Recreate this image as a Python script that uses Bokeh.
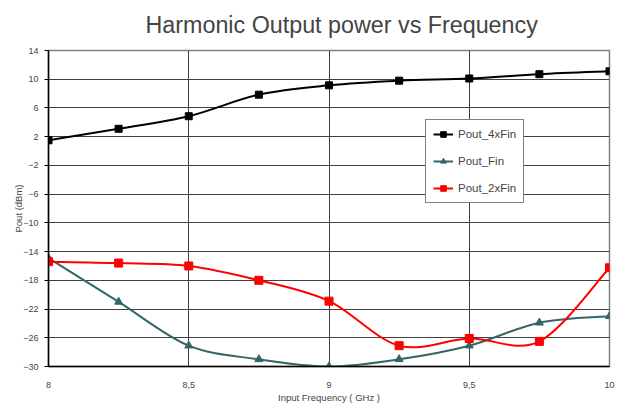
from bokeh.plotting import figure
from bokeh.models import FixedTicker, Legend, LegendItem, ColumnDataSource
from bokeh.embed import file_html
from bokeh.resources import INLINE

freq = [8.0, 8.25, 8.5, 8.75, 9.0, 9.25, 9.5, 9.75, 10.0]
pout_4xfin = [1.5, 3.1, 4.85, 7.85, 9.15, 9.8, 10.1, 10.7, 11.1]
pout_fin = [-14.9, -21.0, -27.1, -29.0, -30.0, -29.0, -27.1, -23.9, -23.0]
pout_2xfin = [-15.4, -15.6, -16.0, -18.0, -20.9, -27.1, -26.1, -26.5, -16.25]

x_ticks = [8.0, 8.5, 9.0, 9.5, 10.0]
x_tick_labels = ["8", "8,5", "9", "9,5", "10"]
y_ticks = [-30, -26, -22, -18, -14, -10, -6, -2, 2, 6, 10, 14]

FONT = "Liberation Sans"

p = figure(width=620, height=405, output_backend="svg", toolbar_location=None,
           x_range=(8, 10), y_range=(-30, 14),
           min_border_left=48, min_border_right=11, min_border_top=50, min_border_bottom=39,
           title="Harmonic Output power vs Frequency")
p.title.text_font = FONT
p.title.text_font_size = "23.3px"
p.title.text_font_style = "normal"
p.title.align = "left"
p.title.offset = 97
p.title.standoff = 21
p.title.vertical_align = "top"

p.outline_line_color = "#808080"
p.outline_line_width = 1.5

# axes
p.xaxis.ticker = FixedTicker(ticks=x_ticks)
p.xaxis.major_label_overrides = {t: l for t, l in zip(x_ticks, x_tick_labels)}
p.yaxis.ticker = FixedTicker(ticks=y_ticks)
for ax in (p.xaxis, p.yaxis):
    ax.axis_line_color = "black"
    ax.axis_line_width = 1.5
    ax.major_label_text_font = FONT
    ax.major_label_text_font_size = "9px"
    ax.axis_label_text_font = FONT
    ax.axis_label_text_font_size = "9.5px"
    ax.axis_label_text_font_style = "normal"
    ax.minor_tick_line_color = None
p.xaxis.major_tick_line_color = None
p.xaxis.major_label_standoff = 9
p.xaxis.axis_label = "Input Frequency ( GHz )"
p.xaxis.axis_label_standoff = 1
p.yaxis.major_tick_out = 4
p.yaxis.major_tick_in = 0
p.yaxis.major_tick_line_color = "black"
p.yaxis.major_label_standoff = 6
p.yaxis.axis_label = "Pout (dBm)"
p.yaxis.axis_label_standoff = -4

p.xgrid.ticker = FixedTicker(ticks=[8.5, 9.0, 9.5])
p.xgrid.grid_line_color = "#404040"
p.ygrid.grid_line_color = "#404040"
p.xgrid.grid_line_width = 1
p.ygrid.grid_line_width = 1


def smooth_src(xs, ys):
    # Catmull-Rom style Bezier control points (chart "smoothed line")
    n = len(xs)
    d = dict(x0=[], y0=[], x1=[], y1=[], cx0=[], cy0=[], cx1=[], cy1=[])
    for i in range(n - 1):
        i0 = max(i - 1, 0)
        i3 = min(i + 2, n - 1)
        d["x0"].append(xs[i]); d["y0"].append(ys[i])
        d["x1"].append(xs[i + 1]); d["y1"].append(ys[i + 1])
        d["cx0"].append(xs[i] + (xs[i + 1] - xs[i0]) / 6)
        d["cy0"].append(ys[i] + (ys[i + 1] - ys[i0]) / 6)
        d["cx1"].append(xs[i + 1] - (xs[i3] - xs[i]) / 6)
        d["cy1"].append(ys[i + 1] - (ys[i3] - ys[i]) / 6)
    return ColumnDataSource(d)


series = [
    ("Pout_4xFin", pout_4xfin, "black", "square", 7),
    ("Pout_Fin", pout_fin, "#336666", "triangle", 8),
    ("Pout_2xFin", pout_2xfin, "#ff0000", "square", 8),
]
items = []
for name, ys, color, marker, size in series:
    b = p.bezier(x0="x0", y0="y0", x1="x1", y1="y1", cx0="cx0", cy0="cy0",
                 cx1="cx1", cy1="cy1", source=smooth_src(freq, ys),
                 line_color=color, line_width=2)
    s = p.scatter(freq, ys, marker=marker, size=size, fill_color=color, line_color=color)
    items.append(LegendItem(label=name, renderers=[b, s]))

legend = Legend(items=items, location=(377, 163))
legend.label_text_font = FONT
legend.label_text_font_size = "11.5px"
legend.border_line_color = "black"
legend.border_line_width = 1
legend.background_fill_color = "white"
legend.background_fill_alpha = 1
legend.padding = 7
legend.spacing = 13
legend.glyph_width = 20
legend.glyph_height = 14
legend.label_height = 14
legend.label_standoff = 5
legend.margin = 0
p.add_layout(legend, "center")

open("out.html", "w").write(file_html(p, INLINE))
